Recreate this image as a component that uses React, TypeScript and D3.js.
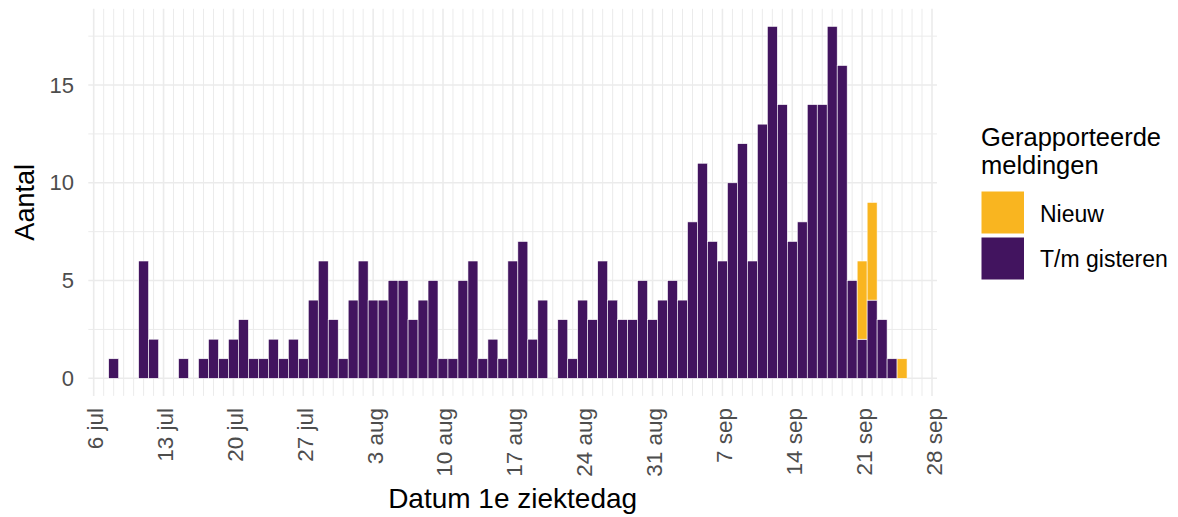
import React from "react";
import * as d3 from "d3";

// Dates of first day of illness (2020)
const dates = [
  "2020-07-08","2020-07-09","2020-07-10","2020-07-11","2020-07-12","2020-07-13","2020-07-14","2020-07-15","2020-07-16","2020-07-17",
  "2020-07-18","2020-07-19","2020-07-20","2020-07-21","2020-07-22","2020-07-23","2020-07-24","2020-07-25","2020-07-26","2020-07-27",
  "2020-07-28","2020-07-29","2020-07-30","2020-07-31",
  "2020-08-01","2020-08-02","2020-08-03","2020-08-04","2020-08-05","2020-08-06","2020-08-07","2020-08-08","2020-08-09","2020-08-10",
  "2020-08-11","2020-08-12","2020-08-13","2020-08-14","2020-08-15","2020-08-16","2020-08-17","2020-08-18","2020-08-19","2020-08-20",
  "2020-08-21","2020-08-22","2020-08-23","2020-08-24","2020-08-25","2020-08-26","2020-08-27","2020-08-28","2020-08-29","2020-08-30",
  "2020-08-31",
  "2020-09-01","2020-09-02","2020-09-03","2020-09-04","2020-09-05","2020-09-06","2020-09-07","2020-09-08","2020-09-09","2020-09-10",
  "2020-09-11","2020-09-12","2020-09-13","2020-09-14","2020-09-15","2020-09-16","2020-09-17","2020-09-18","2020-09-19","2020-09-20",
  "2020-09-21","2020-09-22","2020-09-23","2020-09-24","2020-09-25",
];

// "T/m gisteren" (reported up to yesterday)
const tmGisteren = [
  1, 0, 0, 6, 2, 0, 0, 1, 0, 1,
  2, 1, 2, 3, 1, 1, 2, 1, 2, 1,
  4, 6, 3, 1,
  4, 6, 4, 4, 5, 5, 3, 4, 5, 1,
  1, 5, 6, 1, 2, 1, 6, 7, 2, 4,
  0, 3, 1, 4, 3, 6, 4, 3, 3, 5,
  3,
  4, 5, 4, 8, 11, 7, 6, 10, 12, 6,
  13, 18, 14, 7, 8, 14, 14, 18, 16, 5,
  2, 4, 3, 1, 0,
];

// "Nieuw" (newly reported)
const nieuw = [
  0, 0, 0, 0, 0, 0, 0, 0, 0, 0,
  0, 0, 0, 0, 0, 0, 0, 0, 0, 0,
  0, 0, 0, 0,
  0, 0, 0, 0, 0, 0, 0, 0, 0, 0,
  0, 0, 0, 0, 0, 0, 0, 0, 0, 0,
  0, 0, 0, 0, 0, 0, 0, 0, 0, 0,
  0,
  0, 0, 0, 0, 0, 0, 0, 0, 0, 0,
  0, 0, 0, 0, 0, 0, 0, 0, 0, 0,
  4, 5, 0, 0, 1,
];

const tickDates = [
  "2020-07-06","2020-07-13","2020-07-20","2020-07-27","2020-08-03","2020-08-10","2020-08-17",
  "2020-08-24","2020-08-31","2020-09-07","2020-09-14","2020-09-21","2020-09-28",
];
const tickLabels = ["6 jul","13 jul","20 jul","27 jul","3 aug","10 aug","17 aug","24 aug","31 aug","7 sep","14 sep","21 sep","28 sep"];
const yTicks = [0, 5, 10, 15];
const yMinor = [2.5, 7.5, 12.5, 17.5];
const legendTitle = ["Gerapporteerde", "meldingen"];
const legendLabels = ["Nieuw", "T/m gisteren"];
const xTitle = "Datum 1e ziektedag";
const yTitle = "Aantal";

const PURPLE = "#42145F";
const YELLOW = "#F9B520";
const GRID = "#EBEBEB";
const FONT = "'Liberation Sans', Arial, Helvetica, sans-serif";

const parse = (s: string) => new Date(s + "T00:00:00Z");

export default function App() {
  const W = 1178, H = 517;
  const panel = { left: 88.3, right: 937, top: 8.8, bottom: 395.9 };

  const x = d3
    .scaleUtc()
    .domain([d3.utcHour.offset(parse("2020-07-06"), -13), d3.utcHour.offset(parse("2020-09-28"), 12)])
    .range([panel.left, panel.right]);
  const y = d3.scaleLinear().domain([-0.9, 18.9]).range([panel.bottom, panel.top]);

  const gridDays = d3.utcDay.range(parse("2020-07-06"), parse("2020-09-29"));
  const weekSet = new Set(tickDates);

  const data = dates.map((d, i) => ({ date: parse(d), base: tmGisteren[i], extra: nieuw[i] }));

  const xl = (d: Date) => x(d3.utcHour.offset(d, -12));
  const xr = (d: Date) => x(d3.utcHour.offset(d, 12));

  return (
    <svg width={W} height={H} style={{ position: "absolute", left: 0, top: 0, background: "#fff" }} fontFamily={FONT}>
      {/* grid */}
      {yMinor.map((v) => (
        <line key={"ym" + v} x1={panel.left} x2={panel.right} y1={y(v)} y2={y(v)} stroke={GRID} strokeWidth={1} />
      ))}
      {gridDays.map((d) => {
        const key = d3.utcFormat("%Y-%m-%d")(d);
        return (
          <line key={"vg" + key} x1={x(d)} x2={x(d)} y1={panel.top} y2={panel.bottom} stroke={GRID}
            strokeWidth={weekSet.has(key) ? 1.6 : 1} />
        );
      })}
      {yTicks.map((v) => (
        <line key={"yg" + v} x1={panel.left} x2={panel.right} y1={y(v)} y2={y(v)} stroke={GRID} strokeWidth={1.6} />
      ))}

      {/* bars */}
      {data.map((d, i) => (
        <g key={"b" + i}>
          {d.base > 0 && (
            <rect x={xl(d.date)} width={xr(d.date) - xl(d.date)} y={y(d.base)} height={y(0) - y(d.base)}
              fill={PURPLE} stroke="#fff" strokeWidth={0.6} />
          )}
          {d.extra > 0 && (
            <rect x={xl(d.date)} width={xr(d.date) - xl(d.date)} y={y(d.base + d.extra)} height={y(d.base) - y(d.base + d.extra)}
              fill={YELLOW} stroke="#fff" strokeWidth={0.6} />
          )}
        </g>
      ))}

      {/* y axis labels */}
      {yTicks.map((v) => (
        <text key={"yt" + v} x={74} y={y(v)} textAnchor="end" dominantBaseline="central" fontSize={22} fill="#4D4D4D">
          {v}
        </text>
      ))}

      {/* x axis labels */}
      {tickDates.map((t, i) => {
        const px = x(parse(t)) + 2;
        const py = 408;
        return (
          <text key={"xt" + t} transform={`translate(${px},${py}) rotate(-90)`} textAnchor="end" dominantBaseline="central"
            fontSize={22.5} fill="#4D4D4D">
            {tickLabels[i]}
          </text>
        );
      })}

      {/* axis titles */}
      <text x={(panel.left + panel.right) / 2} y={508} textAnchor="middle" fontSize={28} fill="#000">{xTitle}</text>
      <text transform={`translate(33.5,${(panel.top + panel.bottom) / 2}) rotate(-90)`} textAnchor="middle" fontSize={27} fill="#000">
        {yTitle}
      </text>

      {/* legend */}
      <text x={981} y={146} fontSize={25.5} fill="#000">{legendTitle[0]}</text>
      <text x={981} y={174} fontSize={25.5} fill="#000">{legendTitle[1]}</text>
      {[YELLOW, PURPLE].map((c, i) => (
        <g key={"lg" + i}>
          <rect x={981.5} y={191.5 + i * 46} width={42.5} height={42} fill={c} />
          <text x={1040} y={221.7 + i * 45} fontSize={23} fill="#000">{legendLabels[i]}</text>
        </g>
      ))}
    </svg>
  );
}
